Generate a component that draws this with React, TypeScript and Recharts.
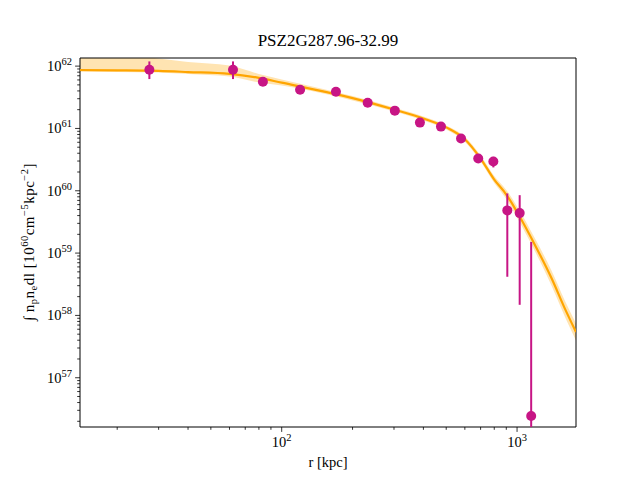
import { ComposedChart, Area, Line, Scatter, ErrorBar, XAxis, YAxis, ReferenceArea, Label } from 'recharts'

// beta-model fit: radius (kpc), median profile and the 68% band around it
const modelR = [13.9, 20, 30, 40, 60, 80, 100, 150, 200, 300, 400, 500, 600, 700, 800, 900, 1000, 1200, 1400, 1600, 1780]
const modelY = [8.66e61, 8.57e61, 8.38e61, 8.04e61, 7.52e61, 6.49e61, 5.43e61, 3.94e61, 3.07e61, 2.01e61, 1.44e61, 1.04e61, 6.7e60, 3.29e60, 1.51e60, 8.71e59, 4.56e59, 1.28e59, 3.98e58, 1.26e58, 5.41e57]
const bandLo = [8.13e61, 8.04e61, 7.89e61, 7.47e61, 6.81e61, 5.46e61, 4.89e61, 3.63e61, 2.81e61, 1.87e61, 1.34e61, 9.66e60, 6.1e60, 2.95e60, 1.33e60, 7.38e59, 3.72e59, 1.01e59, 3.02e58, 9.38e57, 3.95e57]
const bandHi = [1.68e62, 1.62e62, 1.32e62, 1.16e62, 1.02e62, 7.47e61, 6.1e61, 4.29e61, 3.31e61, 2.16e61, 1.55e61, 1.12e61, 7.35e60, 3.68e60, 1.72e60, 1.03e60, 5.59e59, 1.63e59, 5.25e58, 1.69e58, 7.41e57]

// measured emission measure profile
const pointR = [27.4, 62.1, 83.2, 119.7, 170, 231.9, 302.5, 386.6, 475, 578, 684, 793, 909, 1026, 1148]
const pointY = [8.76e61, 8.76e61, 5.6e61, 4.19e61, 3.89e61, 2.59e61, 1.93e61, 1.24e61, 1.07e61, 6.89e60, 3.29e60, 2.95e60, 4.84e59, 4.38e59, 2.44e56]
const pointLo = [6.2e61, 6.2e61, 5.2e61, 3.9e61, 3.6e61, 2.4e61, 1.8e61, 1.15e61, 1.0e61, 6.4e60, 3.0e60, 2.37e60, 4.17e58, 1.48e58, 1.62e56]
const pointHi = [1.19e62, 1.19e62, 6.0e61, 4.5e61, 4.2e61, 2.8e61, 2.07e61, 1.33e61, 1.15e61, 7.4e60, 3.6e60, 3.5e60, 9.06e59, 8.5e59, 1.51e59]

const xDomain = [13.9, 1780]
const yDomain = [1.62e56, 1.35e62]
const xDecades = [10, 100, 1000]
const yDecades = [1e56, 1e57, 1e58, 1e59, 1e60, 1e61, 1e62]

const ORANGE = '#FFA500'
const MAGENTA = '#C71585'
const FONT = '"Liberation Serif", "DejaVu Serif", serif'

const model = modelR.map((r, i) => ({ r, y: modelY[i], band: [bandLo[i], bandHi[i]] }))
const points = pointR.map((r, i) => ({
  r,
  y: pointY[i],
  err: [pointY[i] - pointLo[i], pointHi[i] - pointY[i]],
}))

const logTicks = (decades: number[], [lo, hi]: number[]) =>
  decades
    .flatMap((d) => [1, 2, 3, 4, 5, 6, 7, 8, 9].map((m) => m * d))
    .filter((v) => v >= lo && v <= hi)

const xTicks = logTicks(xDecades, xDomain)
const yTicks = logTicks(yDecades, yDomain)

const isMajor = (v: number) => {
  const l = Math.log10(v)
  return Math.abs(l - Math.round(l)) < 1e-6
}

function XTick({ x, y, payload }: any) {
  const v = payload.value
  const major = isMajor(v)
  return (
    <g>
      <line x1={x} x2={x} y1={y} y2={y + (major ? 4.9 : 2.8)} stroke="#000" strokeWidth={0.8} />
      {major && (
        <text x={x} y={y + 20} textAnchor="middle" fontFamily={FONT} fontSize={14.5} fill="#000">
          10
          <tspan dy={-6} fontSize={10.5}>
            {Math.round(Math.log10(v))}
          </tspan>
        </text>
      )}
    </g>
  )
}

function YTick({ x, y, payload }: any) {
  const v = payload.value
  const major = isMajor(v)
  return (
    <g>
      <line x1={x - (major ? 4.9 : 2.8)} x2={x} y1={y} y2={y} stroke="#000" strokeWidth={0.8} />
      {major && (
        <text x={x - 8} y={y + 5} textAnchor="end" fontFamily={FONT} fontSize={14.5} fill="#000">
          10
          <tspan dy={-6} fontSize={10.5}>
            {Math.round(Math.log10(v))}
          </tspan>
        </text>
      )}
    </g>
  )
}

function YLabel() {
  return (
    <text
      x={0}
      y={0}
      transform="translate(34, 242) rotate(-90)"
      textAnchor="middle"
      fontFamily={FONT}
      fontSize={15}
      letterSpacing={0.5}
      fill="#000"
    >
      ∫ n
      <tspan dy={3} fontSize={10.5}>p</tspan>
      <tspan dy={-3}>n</tspan>
      <tspan dy={3} fontSize={10.5}>e</tspan>
      <tspan dy={-3}>dl [10</tspan>
      <tspan dy={-6} fontSize={10.5}>60</tspan>
      <tspan dy={6}>cm</tspan>
      <tspan dy={-6} fontSize={10.5}>−5</tspan>
      <tspan dy={6}>kpc</tspan>
      <tspan dy={-6} fontSize={10.5}>−2</tspan>
      <tspan dy={6}>]</tspan>
    </text>
  )
}

export default function App() {
  return (
    <div style={{ position: 'absolute', left: 0, top: 0, width: 640, height: 480, background: '#fff' }}>
      <div
        style={{
          position: 'absolute',
          left: 80,
          width: 496,
          top: 31,
          textAlign: 'center',
          fontFamily: FONT,
          fontSize: 17,
          color: '#000',
        }}
      >
        PSZ2G287.96-32.99
      </div>
      <ComposedChart width={640} height={480} margin={{ top: 58, right: 64, bottom: 8, left: 10 }}>
        <XAxis
          dataKey="r"
          type="number"
          scale="log"
          domain={xDomain}
          allowDataOverflow
          ticks={xTicks}
          interval={0}
          tick={<XTick />}
          tickLine={false}
          axisLine={false}
          tickSize={0}
          tickMargin={0}
          height={45}
        >
          <Label
            content={() => (
              <text x={328} y={467} textAnchor="middle" fontFamily={FONT} fontSize={14.5} fill="#000">
                r [kpc]
              </text>
            )}
          />
        </XAxis>
        <YAxis
          type="number"
          scale="log"
          domain={yDomain}
          allowDataOverflow
          ticks={yTicks}
          interval={0}
          tick={<YTick />}
          tickLine={false}
          axisLine={false}
          tickSize={0}
          tickMargin={0}
          width={70}
        >
          <Label content={() => <YLabel />} />
        </YAxis>
        <Area
          data={model}
          dataKey="band"
          type="monotone"
          fill={ORANGE}
          fillOpacity={0.3}
          stroke="none"
          isAnimationActive={false}
        />
        <Line
          data={model}
          dataKey="y"
          type="monotone"
          stroke={ORANGE}
          strokeWidth={2.2}
          dot={false}
          isAnimationActive={false}
        />
        <Scatter
          data={points}
          dataKey="y"
          fill={MAGENTA}
          isAnimationActive={false}
          shape={(p: any) => <circle cx={p.cx} cy={p.cy} r={5} fill={MAGENTA} />}
        >
          <ErrorBar dataKey="err" direction="y" width={0} stroke={MAGENTA} strokeWidth={2} />
        </Scatter>
        <ReferenceArea
          x1={xDomain[0]}
          x2={xDomain[1]}
          y1={yDomain[0]}
          y2={yDomain[1]}
          fill="none"
          stroke="#000"
          strokeWidth={1}
          ifOverflow="visible"
        />
      </ComposedChart>
    </div>
  )
}
